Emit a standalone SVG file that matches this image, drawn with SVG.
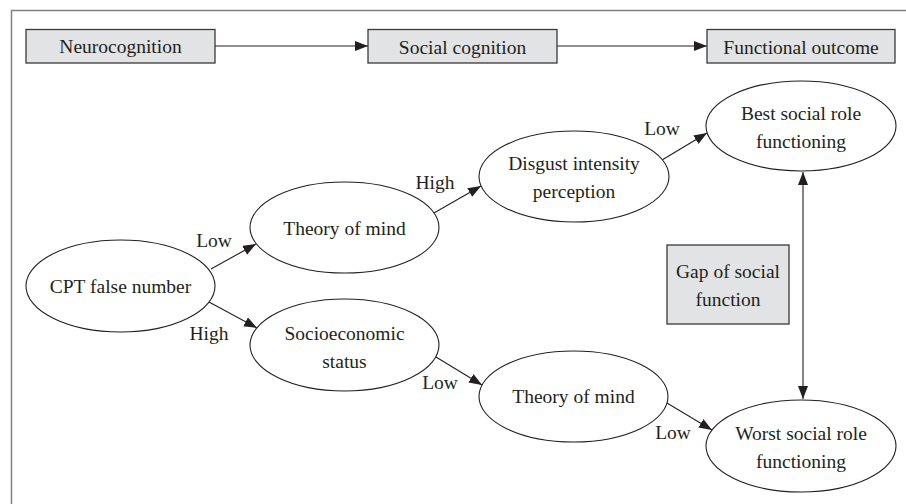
<svg xmlns="http://www.w3.org/2000/svg" width="906" height="504" viewBox="0 0 906 504">
<style>
text{font-family:"Liberation Serif","Times New Roman",serif;font-size:19.5px;fill:#231f20;text-anchor:middle}
.box{fill:#e2e3e5;stroke:#3a3a3a;stroke-width:1.3}
.ell{fill:#fff;stroke:#231f20;stroke-width:1.1}
.edge{fill:none;stroke:#231f20;stroke-width:1.1}
</style>
<defs>
<marker id="ah" markerUnits="userSpaceOnUse" markerWidth="14" markerHeight="11" refX="13" refY="5" orient="auto-start-reverse">
<path d="M0,0 L13,5 L0,10 z" fill="#231f20"/>
</marker>
</defs>
<rect x="0" y="0" width="906" height="504" fill="#fff"/>
<polyline points="11.5,504 11.5,10.5 906,10.5" fill="none" stroke="#808080" stroke-width="1.5"/>

<g id="connectors">
<line class="edge" x1="215" y1="46" x2="368" y2="46" marker-end="url(#ah)"/>
<line class="edge" x1="557" y1="46" x2="707" y2="46" marker-end="url(#ah)"/>
<line class="edge" x1="211" y1="269" x2="256" y2="244" marker-end="url(#ah)"/>
<line class="edge" x1="209" y1="302" x2="257" y2="328" marker-end="url(#ah)"/>
<line class="edge" x1="434" y1="213" x2="481" y2="186" marker-end="url(#ah)"/>
<line class="edge" x1="662" y1="160" x2="707" y2="133" marker-end="url(#ah)"/>
<line class="edge" x1="436" y1="357" x2="482" y2="385" marker-end="url(#ah)"/>
<line class="edge" x1="667" y1="403" x2="712" y2="430" marker-end="url(#ah)"/>
<line class="edge" x1="803" y1="172" x2="803" y2="399" marker-start="url(#ah)" marker-end="url(#ah)"/>
<text x="214" y="247">Low</text>
<text x="209" y="340">High</text>
<text x="435" y="189">High</text>
<text x="662" y="135">Low</text>
<text x="440" y="389">Low</text>
<text x="673" y="439">Low</text>
</g>

<g id="neurocognition">
<rect class="box" x="26" y="29.5" width="189" height="33.5"/>
<text x="120.5" y="53">Neurocognition</text>
</g>
<g id="social-cognition">
<rect class="box" x="368" y="29.5" width="189" height="33.5"/>
<text x="462.5" y="54">Social cognition</text>
</g>
<g id="functional-outcome">
<rect class="box" x="707" y="29.5" width="188" height="33.5"/>
<text x="801" y="54">Functional outcome</text>
</g>

<g id="cpt">
<ellipse class="ell" cx="120.5" cy="286" rx="94.5" ry="46"/>
<text x="120.5" y="293">CPT false number</text>
</g>
<g id="tom1">
<ellipse class="ell" cx="344.5" cy="227.5" rx="94.5" ry="45.5"/>
<text x="344.5" y="235">Theory of mind</text>
</g>
<g id="disgust">
<ellipse class="ell" cx="574" cy="176.5" rx="95" ry="45.5"/>
<text x="574" y="170">Disgust intensity</text>
<text x="574" y="198">perception</text>
</g>
<g id="best">
<ellipse class="ell" cx="801" cy="126" rx="95" ry="45"/>
<text x="801" y="120">Best social role</text>
<text x="801" y="148">functioning</text>
</g>
<g id="socio">
<ellipse class="ell" cx="344.5" cy="345" rx="94.5" ry="46"/>
<text x="344.5" y="340">Socioeconomic</text>
<text x="344.5" y="368">status</text>
</g>
<g id="tom2">
<ellipse class="ell" cx="573.5" cy="396.5" rx="94.5" ry="45.5"/>
<text x="573.5" y="403">Theory of mind</text>
</g>
<g id="worst">
<ellipse class="ell" cx="801" cy="446" rx="95" ry="46"/>
<text x="801" y="440">Worst social role</text>
<text x="801" y="468">functioning</text>
</g>
<g id="gap">
<rect class="box" x="667" y="245" width="122" height="79"/>
<text x="728" y="278">Gap of social</text>
<text x="728" y="306">function</text>
</g>
</svg>
